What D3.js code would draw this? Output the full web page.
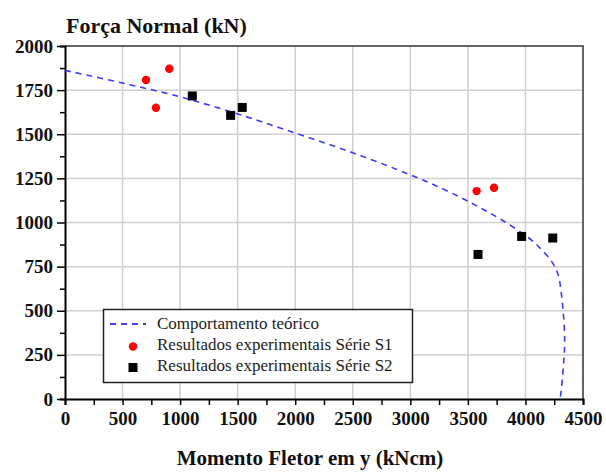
<!DOCTYPE html>
<html>
<head>
<meta charset="utf-8">
<script src="https://cdn.jsdelivr.net/npm/d3@7"></script>
<style>
  body { margin: 0; background: #fff; }
  svg text { font-family: "Liberation Serif", "Times New Roman", Times, "DejaVu Serif", "Noto Serif", serif !important; }
</style>
</head>
<body>
<svg id="chart" width="606" height="472"></svg>
<script>
// theoretical curve (moment kNcm, normal force kN)
const curveM = [0, 500, 1000, 1500, 2000, 2500, 3000, 3300, 3560, 3780, 4025, 4130, 4230, 4285, 4308, 4328, 4341, 4332, 4306, 4300];
const curveN = [1862, 1790, 1712, 1615, 1507, 1395, 1270, 1185, 1100, 1020, 915, 853, 777, 702, 618, 493, 334, 204, 23, 0];

// experimental series
const s1M = [704, 790, 906, 3576, 3727];
const s1N = [1807, 1650, 1871, 1178, 1197];
const s2M = [1106, 1439, 1540, 3588, 3967, 4237];
const s2N = [1717, 1607, 1652, 819, 921, 912];

const xTicks = [0, 500, 1000, 1500, 2000, 2500, 3000, 3500, 4000, 4500];
const yTicks = [0, 250, 500, 750, 1000, 1250, 1500, 1750, 2000];

const legendLabels = ['Comportamento teórico', 'Resultados experimentais Série S1', 'Resultados experimentais Série S2'];

const serif = '"Liberation Serif", "Times New Roman", Times, "DejaVu Serif", serif';
const svg = d3.select('#chart');
const mLeft = 65, mRight = 583, mTop = 46, mBottom = 399;

const x = d3.scaleLinear().domain([0, 4500]).range([mLeft, mRight]);
const y = d3.scaleLinear().domain([0, 2000]).range([mBottom, mTop]);

// grid
svg.append('g').selectAll('line')
  .data(xTicks.slice(1, -1))
  .enter().append('line')
    .attr('x1', d => x(d)).attr('x2', d => x(d))
    .attr('y1', mTop).attr('y2', mBottom)
    .attr('stroke', '#d0d0d0').attr('stroke-width', 1.5);
svg.append('g').selectAll('line')
  .data(yTicks.slice(1, -1))
  .enter().append('line')
    .attr('x1', mLeft).attr('x2', mRight)
    .attr('y1', d => y(d)).attr('y2', d => y(d))
    .attr('stroke', '#d0d0d0').attr('stroke-width', 1.5);

// frame top/right
svg.append('path')
  .attr('d', `M${mLeft},${mTop}H${mRight}V${mBottom}`)
  .attr('fill', 'none').attr('stroke', '#333').attr('stroke-width', 1.5);

// axes
const xAxis = d3.axisBottom(x).tickValues(d3.range(0, 4501, 250))
  .tickSize(6).tickFormat(d => d % 500 === 0 ? d : '');
const gx = svg.append('g').attr('transform', `translate(0,${mBottom})`).call(xAxis)
  .attr('font-family', serif);
gx.select('.domain').attr('stroke', '#000').attr('stroke-width', 2);
gx.selectAll('.tick line').attr('stroke', '#000').attr('stroke-width', 1.5);
gx.selectAll('.tick text')
  .attr('y', 13).attr('dy', '0.71em')
  .attr('font-weight', 'bold').attr('font-size', 19).attr('fill', '#111');

const yAxis = d3.axisLeft(y).tickValues(d3.range(0, 2001, 125))
  .tickSize(5).tickFormat(d => d % 250 === 0 ? d : '');
const gy = svg.append('g').attr('transform', `translate(${mLeft},0)`).call(yAxis)
  .attr('font-family', serif);
gy.select('.domain').attr('stroke', '#000').attr('stroke-width', 2);
gy.selectAll('.tick line').attr('stroke', '#000').attr('stroke-width', 1.5)
  .attr('x2', d => d % 250 === 0 ? -8 : -5);
gy.selectAll('.tick text')
  .attr('x', -12)
  .attr('font-weight', 'bold').attr('font-size', 19).attr('fill', '#111');

// theoretical curve
const line = d3.line()
  .x((d, i) => x(curveM[i]))
  .y((d, i) => y(curveN[i]))
  .curve(d3.curveCatmullRom.alpha(0.5));
svg.append('path')
  .attr('d', line(curveM))
  .attr('fill', 'none')
  .attr('stroke', '#3a3aff')
  .attr('stroke-width', 1.6)
  .attr('stroke-dasharray', '6,5');

// S1 points
svg.append('g').selectAll('circle')
  .data(s1M)
  .enter().append('circle')
    .attr('cx', d => x(d))
    .attr('cy', (d, i) => y(s1N[i]))
    .attr('r', 4.2)
    .attr('fill', '#ff0000');

// S2 points
svg.append('g').selectAll('rect')
  .data(s2M)
  .enter().append('rect')
    .attr('x', d => x(d) - 4.5)
    .attr('y', (d, i) => y(s2N[i]) - 4.5)
    .attr('width', 9).attr('height', 9)
    .attr('fill', '#000');

// legend
const lg = svg.append('g').attr('font-family', serif);
lg.append('rect')
  .attr('x', 103.5).attr('y', 309.5).attr('width', 309).attr('height', 73)
  .attr('fill', '#fff').attr('stroke', '#222').attr('stroke-width', 1.5);
lg.append('line')
  .attr('x1', 110).attr('x2', 146).attr('y1', 324).attr('y2', 324)
  .attr('stroke', '#0000ff').attr('stroke-width', 1.5).attr('stroke-dasharray', '6,5');
lg.append('circle').attr('cx', 133).attr('cy', 346.5).attr('r', 4.2).attr('fill', '#ff0000');
lg.append('rect').attr('x', 128.5).attr('y', 363).attr('width', 9).attr('height', 9).attr('fill', '#000');
lg.selectAll('text')
  .data(legendLabels)
  .enter().append('text')
    .attr('x', 157)
    .attr('y', (d, i) => 329 + i * 21)
    .attr('font-size', 17)
    .attr('fill', '#222')
    .text(d => d);

// titles
svg.append('text')
  .attr('x', 66).attr('y', 33)
  .attr('font-family', serif)
  .attr('font-weight', 'bold').attr('font-size', 22).attr('fill', '#111')
  .text('Força Normal (kN)');
svg.append('text')
  .attr('x', 310).attr('y', 465).attr('text-anchor', 'middle')
  .attr('font-family', serif)
  .attr('font-weight', 'bold').attr('font-size', 21).attr('fill', '#111')
  .text('Momento Fletor em y (kNcm)');
</script>
</body>
</html>
